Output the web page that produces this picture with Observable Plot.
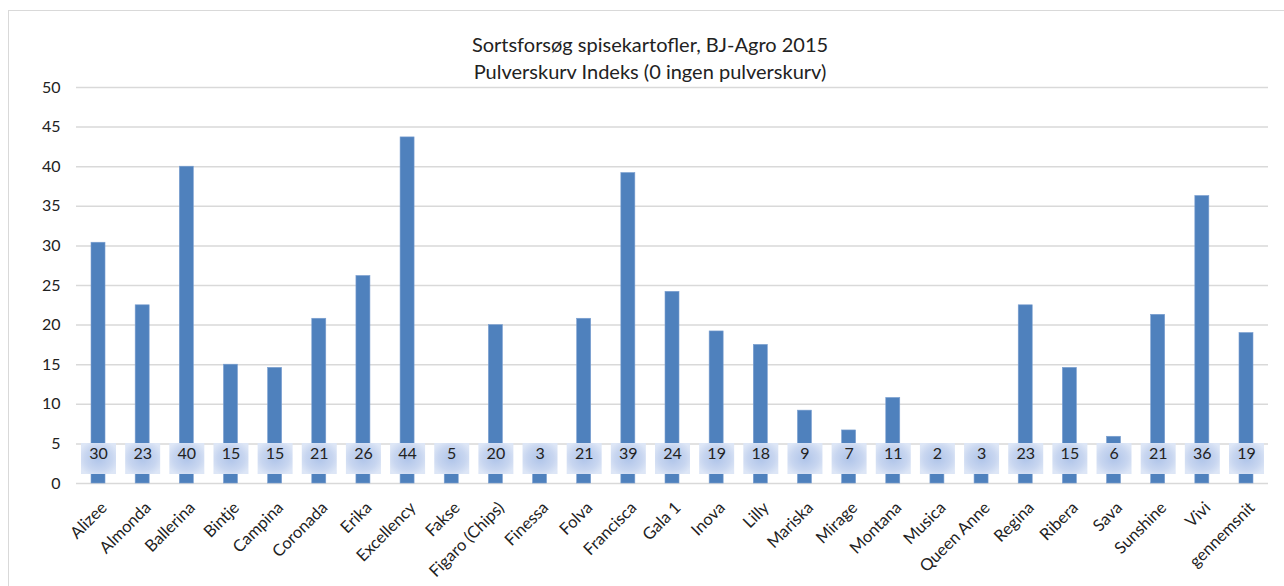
<!DOCTYPE html>
<html>
<head>
<meta charset="utf-8">
<script src="https://cdn.jsdelivr.net/npm/d3@7"></script>
<script src="https://cdn.jsdelivr.net/npm/@observablehq/plot@0.6"></script>
<style>
  html, body { margin: 0; padding: 0; background: #fff; }
  body { width: 1284px; height: 586px; overflow: hidden; position: relative; font-family: Lato, "Open Sans", sans-serif; }
  #frame { position: absolute; left: 8px; top: 10px; width: 1300px; height: 620px; border: 1px solid #d9d9d9; box-sizing: border-box; }
  #title { position: absolute; left: 0; width: 1300px; top: 31px; text-align: center; font-size: 20px; line-height: 27px; color: #222; }
  #chart { position: absolute; left: 0; top: 0; }
</style>
</head>
<body>
<div id="frame"></div>
<div id="chart"></div>
<div id="title">Sortsforsøg spisekartofler, BJ-Agro 2015<br>Pulverskurv Indeks (0 ingen pulverskurv)</div>
<script>
const categories = ["Alizee","Almonda","Ballerina","Bintje","Campina","Coronada","Erika","Excellency","Fakse","Figaro (Chips)","Finessa","Folva","Francisca","Gala 1","Inova","Lilly","Mariska","Mirage","Montana","Musica","Queen Anne","Regina","Ribera","Sava","Sunshine","Vivi","gennemsnit"];
const values = [30.4,22.5,40.0,15.0,14.6,20.8,26.2,43.7,4.8,20.0,2.8,20.8,39.2,24.2,19.2,17.5,9.2,6.7,10.8,2.0,2.8,22.5,14.6,5.9,21.3,36.3,19.0];
const labels = [30,23,40,15,15,21,26,44,5,20,3,21,39,24,19,18,9,7,11,2,3,23,15,6,21,36,19];
const yTicks = [0,5,10,15,20,25,30,35,40,45,50];

const data = categories.map((c, i) => ({cat: c, value: values[i], label: labels[i]}));

const boxSymbol = { draw(ctx) { ctx.rect(-17.5, -15.5, 35, 31); } };

const chart = Plot.plot({
  width: 1284,
  height: 586,
  marginLeft: 76,
  marginRight: 16,
  marginTop: 87,
  marginBottom: 103,
  style: { fontFamily: "Lato, 'Open Sans', sans-serif", fontSize: "16px", color: "#222", background: "transparent" },
  x: { domain: categories, paddingInner: 0.683, paddingOuter: 0.34, round: false, label: null, axis: null },
  y: { domain: [0, 50], label: null },
  marks: [
    Plot.ruleY(yTicks, { stroke: "#d9d9d9", strokeWidth: 1.5 }),
    Plot.barY(data, { x: "cat", y: "value", fill: "#4f81bd", stroke: "#7b9fd0", strokeWidth: 0.6 }),
    Plot.dot(data, { x: "cat", frameAnchor: "bottom", dy: -25, symbol: boxSymbol, fill: "url(#glow)", stroke: "none" }),
    Plot.text(data, { x: "cat", frameAnchor: "bottom", dy: -25, text: "label", fontSize: 16, fill: "#222" }),
    Plot.text(categories, { x: d => d, text: d => d, frameAnchor: "bottom", rotate: -45, textAnchor: "end", lineAnchor: "top", dx: 1, dy: 17, fontSize: 16.5, fill: "#222" }),
    Plot.axisY({ ticks: yTicks, tickSize: 0, tickPadding: 16, fontSize: 16, fill: "#222", label: null })
  ]
});

const ns = "http://www.w3.org/2000/svg";
const defs = document.createElementNS(ns, "defs");
defs.innerHTML = '<radialGradient id="glow" cx="0.5" cy="0.5" r="0.6"><stop offset="0" stop-color="#afc4e9"/><stop offset="0.65" stop-color="#c8d6f0"/><stop offset="1" stop-color="#dde6f6"/></radialGradient>';
chart.insertBefore(defs, chart.firstChild);
document.getElementById("chart").appendChild(chart);
</script>
</body>
</html>
